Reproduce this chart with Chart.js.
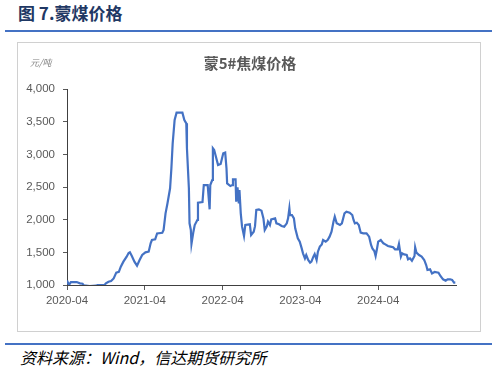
<!DOCTYPE html>
<html>
<head>
<meta charset="utf-8">
<script src="https://cdn.jsdelivr.net/npm/chart.js@4.4.1/dist/chart.umd.min.js"></script>
<style>
  body { margin: 0; width: 498px; height: 369px; background: #fff; position: relative; overflow: hidden; font-family: "Noto Sans CJK SC", sans-serif; }
  #head { position: absolute; left: 18px; top: 3px; line-height: 20px; font-size: 17px; font-weight: bold; color: #1f3864; }
  .rule { position: absolute; left: 5px; width: 487px; height: 2px; background: #4472c4; }
  #box { position: absolute; left: 17px; top: 42px; width: 462px; height: 288px; border: 1px solid #d0d0d0; }
  #foot { position: absolute; left: 20px; top: 347px; line-height: 20px; font-size: 16px; font-style: italic; color: #000; }
</style>
</head>
<body>
<div id="head">图 7.蒙煤价格</div>
<div class="rule" style="top:30px"></div>
<div id="box"><canvas id="chart" width="462" height="288"></canvas></div>
<div class="rule" style="top:343px"></div>
<div id="foot">资料来源：Wind，信达期货研究所</div>

<script>
const chartTitle = '蒙5#焦煤价格';
const unitLabel = '元/吨';
const xTickLabels = ['2020-04', '2021-04', '2022-04', '2023-04', '2024-04'];
const yTickValues = [1000, 1500, 2000, 2500, 3000, 3500, 4000];

// 读图估算的价格（日期, 元/吨）
const dates = [
  '2020-04-01','2020-04-10','2020-04-19','2020-05-16','2020-06-01','2020-06-13','2020-06-19','2020-07-16',
  '2020-08-16','2020-08-22','2020-09-25','2020-10-01','2020-10-13','2020-10-25','2020-11-07','2020-11-19',
  '2020-12-01','2020-12-10','2020-12-22','2021-01-07','2021-01-16','2021-01-22','2021-02-01','2021-02-13',
  '2021-02-25','2021-03-07','2021-03-19','2021-04-04','2021-04-19','2021-04-28','2021-05-04','2021-05-19',
  '2021-05-28','2021-06-22','2021-06-28','2021-07-07','2021-07-16','2021-07-28','2021-08-04','2021-08-10',
  '2021-08-19','2021-08-28','2021-09-25','2021-10-04','2021-10-13','2021-10-16','2021-10-25','2021-10-28',
  '2021-11-04','2021-11-07','2021-11-16','2021-11-22','2021-12-04','2021-12-07','2021-12-28','2022-01-04',
  '2022-01-22','2022-02-01','2022-02-04','2022-02-13','2022-02-16','2022-02-22','2022-02-28','2022-03-10',
  '2022-03-22','2022-04-04','2022-04-13','2022-04-19','2022-04-22','2022-05-07','2022-05-16','2022-05-19',
  '2022-06-01','2022-06-04','2022-06-10','2022-06-16','2022-06-19','2022-06-25','2022-07-01','2022-07-10',
  '2022-07-16','2022-08-07','2022-08-13','2022-08-25','2022-09-01','2022-09-07','2022-09-19','2022-10-01',
  '2022-10-10','2022-10-16','2022-10-25','2022-11-01','2022-11-10','2022-11-16','2022-12-04','2022-12-10',
  '2022-12-22','2023-01-04','2023-01-16','2023-01-28','2023-02-04','2023-02-10','2023-02-13','2023-02-22',
  '2023-03-01','2023-03-07','2023-03-19','2023-03-28','2023-04-07','2023-04-13','2023-04-22','2023-04-28',
  '2023-05-07','2023-05-16','2023-05-22','2023-06-01','2023-06-07','2023-06-16','2023-06-22','2023-07-01',
  '2023-07-10','2023-07-16','2023-07-28','2023-08-07','2023-08-16','2023-08-25','2023-09-04','2023-09-10',
  '2023-09-19','2023-10-04','2023-10-13','2023-10-25','2023-11-04','2023-11-19','2023-12-01','2023-12-07',
  '2023-12-13','2023-12-22','2024-01-01','2024-01-10','2024-01-22','2024-02-07','2024-02-19','2024-02-28',
  '2024-03-04','2024-03-13','2024-03-19','2024-03-25','2024-04-01','2024-04-13','2024-04-25','2024-05-04',
  '2024-05-16','2024-05-28','2024-06-10','2024-06-19','2024-07-01','2024-07-07','2024-07-16','2024-07-22',
  '2024-08-01','2024-08-13','2024-08-19','2024-08-28','2024-09-07','2024-09-19','2024-09-22','2024-09-28',
  '2024-10-10','2024-10-22','2024-11-04','2024-11-13','2024-11-19','2024-12-01','2024-12-10','2024-12-22',
  '2025-01-10','2025-01-19','2025-02-01','2025-02-13','2025-02-22','2025-03-04','2025-03-13','2025-03-22',
  '2025-03-28'
];
const prices = [
  1070,1000,1045,1045,1025,1020,995,985,
  990,1000,1000,1025,1050,1060,1100,1190,
  1200,1280,1357,1434,1490,1500,1444,1357,
  1296,1383,1459,1500,1510,1638,1689,1700,
  1790,1800,1842,2097,2250,2480,2786,3168,
  3525,3638,3638,3525,3474,3092,2480,1944,
  1842,1628,1816,1918,1995,2260,2270,2530,
  2530,2158,2530,2607,3092,3066,2990,2837,
  2852,3015,3026,2786,2556,2515,2530,2617,
  2617,2276,2495,2250,2454,2097,1893,1750,
  1918,1928,1765,1816,1900,2148,2158,2138,
  2020,1842,1893,1969,1918,2005,2020,1944,
  1929,1903,1893,1944,2020,2173,2071,2071,
  2020,1867,1714,1663,1561,1485,1408,1459,
  1383,1342,1357,1434,1474,1383,1510,1587,
  1622,1689,1663,1689,1740,1816,1969,2046,
  1944,1918,1944,2097,2122,2107,2071,1995,
  1944,1954,1918,1801,1791,1791,1740,1612,
  1561,1520,1444,1546,1663,1689,1638,1622,
  1597,1587,1577,1546,1546,1628,1434,1485,
  1469,1459,1393,1408,1372,1444,1577,1495,
  1459,1434,1383,1306,1230,1240,1178,1199,
  1189,1138,1087,1066,1087,1087,1077,1036,
  1035
];

// 日期 -> 距 2020-04 的月数
function monthOffset(d) {
  const [y, m, day] = d.split('-').map(Number);
  return (y - 2020) * 12 + (m - 4) + (day - 1) / 30;
}
const points = dates.map((d, i) => ({ x: monthOffset(d), y: prices[i] }));

const textPlugin = {
  id: 'texts',
  afterDraw(chart) {
    const ctx = chart.ctx;
    ctx.save();
    ctx.fillStyle = '#595959';
    ctx.font = 'bold 15px "Noto Sans CJK SC"';
    ctx.textAlign = 'center';
    ctx.textBaseline = 'middle';
    ctx.fillText(chartTitle, 232, 20);
    ctx.fillStyle = '#7f7f7f';
    ctx.font = 'italic 9px "Noto Sans CJK SC"';
    ctx.textAlign = 'left';
    ctx.fillText(unitLabel, 12, 20);
    ctx.restore();
  }
};

new Chart(document.getElementById('chart'), {
  type: 'line',
  data: {
    datasets: [{
      data: points,
      borderColor: '#4472c4',
      borderWidth: 2.2,
      pointRadius: 0,
      tension: 0
    }]
  },
  options: {
    responsive: false,
    animation: false,
    layout: { padding: { left: 0, right: 24, top: 46, bottom: 14 } },
    plugins: { legend: { display: false }, tooltip: { enabled: false } },
    scales: {
      x: {
        type: 'linear',
        min: 0,
        max: 60,
        afterBuildTicks: s => { s.ticks = xTickLabels.map((_, i) => ({ value: i * 12 })); },
        afterFit: s => { s.height = 32; },
        ticks: {
          autoSkip: false,
          maxRotation: 0,
          padding: 4,
          color: '#595959',
          font: { family: 'Liberation Sans', size: 11.5 },
          callback: (v, i) => xTickLabels[i]
        },
        grid: { drawOnChartArea: false, tickLength: 5, color: '#595959' },
        border: { color: '#404040', width: 1 }
      },
      y: {
        min: 1000,
        max: 4000,
        afterBuildTicks: s => { s.ticks = yTickValues.map(v => ({ value: v })); },
        afterFit: s => { s.width = 49; },
        ticks: {
          padding: 8,
          color: '#595959',
          font: { family: 'Liberation Sans', size: 11.5 },
          callback: v => v.toLocaleString('en-US')
        },
        grid: { drawOnChartArea: false, tickLength: 4, color: '#595959' },
        border: { color: '#404040', width: 1 }
      }
    }
  },
  plugins: [textPlugin]
});
</script>
</body>
</html>
